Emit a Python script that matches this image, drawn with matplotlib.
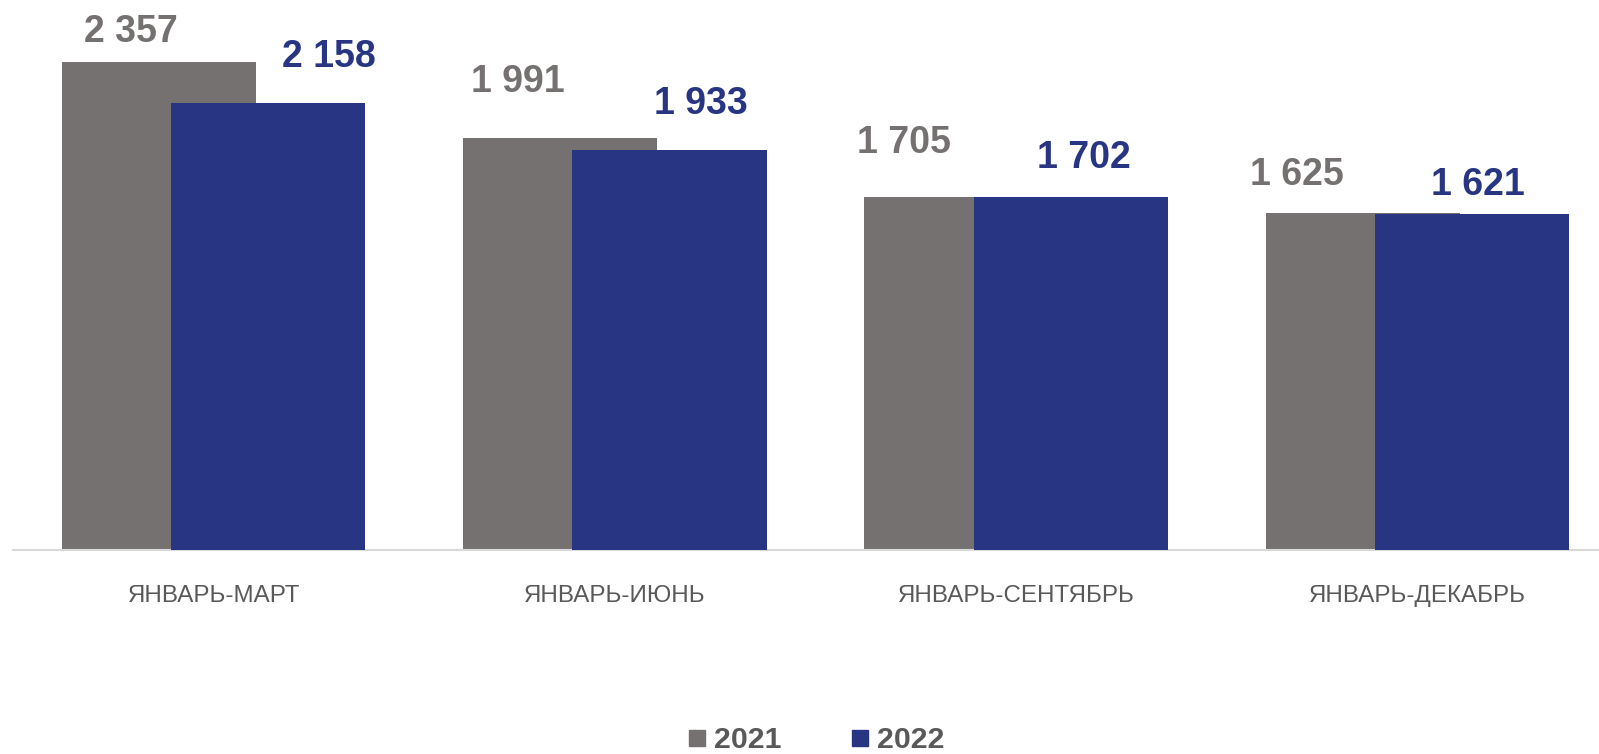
import matplotlib
matplotlib.use("Agg")
import matplotlib.pyplot as plt
from matplotlib.lines import Line2D
import numpy as np

plt.rcParams['font.family'] = ['Liberation Sans', 'DejaVu Sans']

categories = ["ЯНВАРЬ-МАРТ", "ЯНВАРЬ-ИЮНЬ", "ЯНВАРЬ-СЕНТЯБРЬ", "ЯНВАРЬ-ДЕКАБРЬ"]
series_names = ["2021", "2022"]
values_2021 = [2357, 1991, 1705, 1625]
values_2022 = [2158, 1933, 1702, 1621]

# label placement offsets (pixels), relative to bar centre / bar top
lbl_dx_2021 = [-28, -42, -58, -66]
lbl_dy_2021 = [19.5, 45.5, 43.5, 28.5]
lbl_dx_2022 = [61, 31, 13, 6]
lbl_dy_2022 = [36.5, 35.5, 29.5, 19.5]

c_gray = "#767171"
c_blue = "#283583"
c_text = "#595959"

W, H = 1599, 754
fig = plt.figure(figsize=(W / 100, H / 100), dpi=100)
ax = fig.add_axes([13 / W, 204.5 / H, 1605 / W, 549.5 / H])

x = np.arange(len(categories))
bw = 0.484
off = 0.136

b1 = ax.bar(x - off, values_2021, width=bw, color=c_gray, zorder=2)
b2 = ax.bar(x + off, values_2022, width=bw, color=c_blue, zorder=3)

def fmt(v):
    return f"{v:,}".replace(",", " ")

for i, v in enumerate(values_2021):
    ax.annotate(fmt(v), (x[i] - off, v), xytext=(lbl_dx_2021[i], lbl_dy_2021[i]),
                textcoords='offset pixels', ha='center', va='baseline',
                fontsize=27, fontweight='bold', color=c_gray, annotation_clip=False)
for i, v in enumerate(values_2022):
    ax.annotate(fmt(v), (x[i] + off, v), xytext=(lbl_dx_2022[i], lbl_dy_2022[i]),
                textcoords='offset pixels', ha='center', va='baseline',
                fontsize=27, fontweight='bold', color=c_blue, annotation_clip=False)

ax.set_xlim(-0.5, len(categories) - 0.5)
ax.set_ylim(0, 2656)
ax.set_yticks([])
ax.set_xticks(x)
ax.set_xticklabels(categories, fontsize=17.4, color=c_text)
ax.tick_params(axis='x', length=0, pad=25.5)
for s in ['top', 'right', 'left']:
    ax.spines[s].set_visible(False)
ax.spines['bottom'].set_color('#D9D9D9')
ax.spines['bottom'].set_linewidth(1.5)
ax.patch.set_alpha(0)

handles = [Line2D([], [], marker='s', linestyle='none', markersize=11.8,
                  markerfacecolor=c, markeredgecolor=c) for c in (c_gray, c_blue)]
leg = fig.legend(handles, series_names, loc='center', bbox_to_anchor=(816 / W, 13.5 / H),
                 ncol=2, frameon=False, handlelength=0.6, handletextpad=0.25,
                 columnspacing=2.3, prop={'size': 21.8, 'weight': 'bold'},
                 borderpad=0, borderaxespad=0)
for t in leg.get_texts():
    t.set_color(c_text)

fig.savefig("out.png", dpi=100)
